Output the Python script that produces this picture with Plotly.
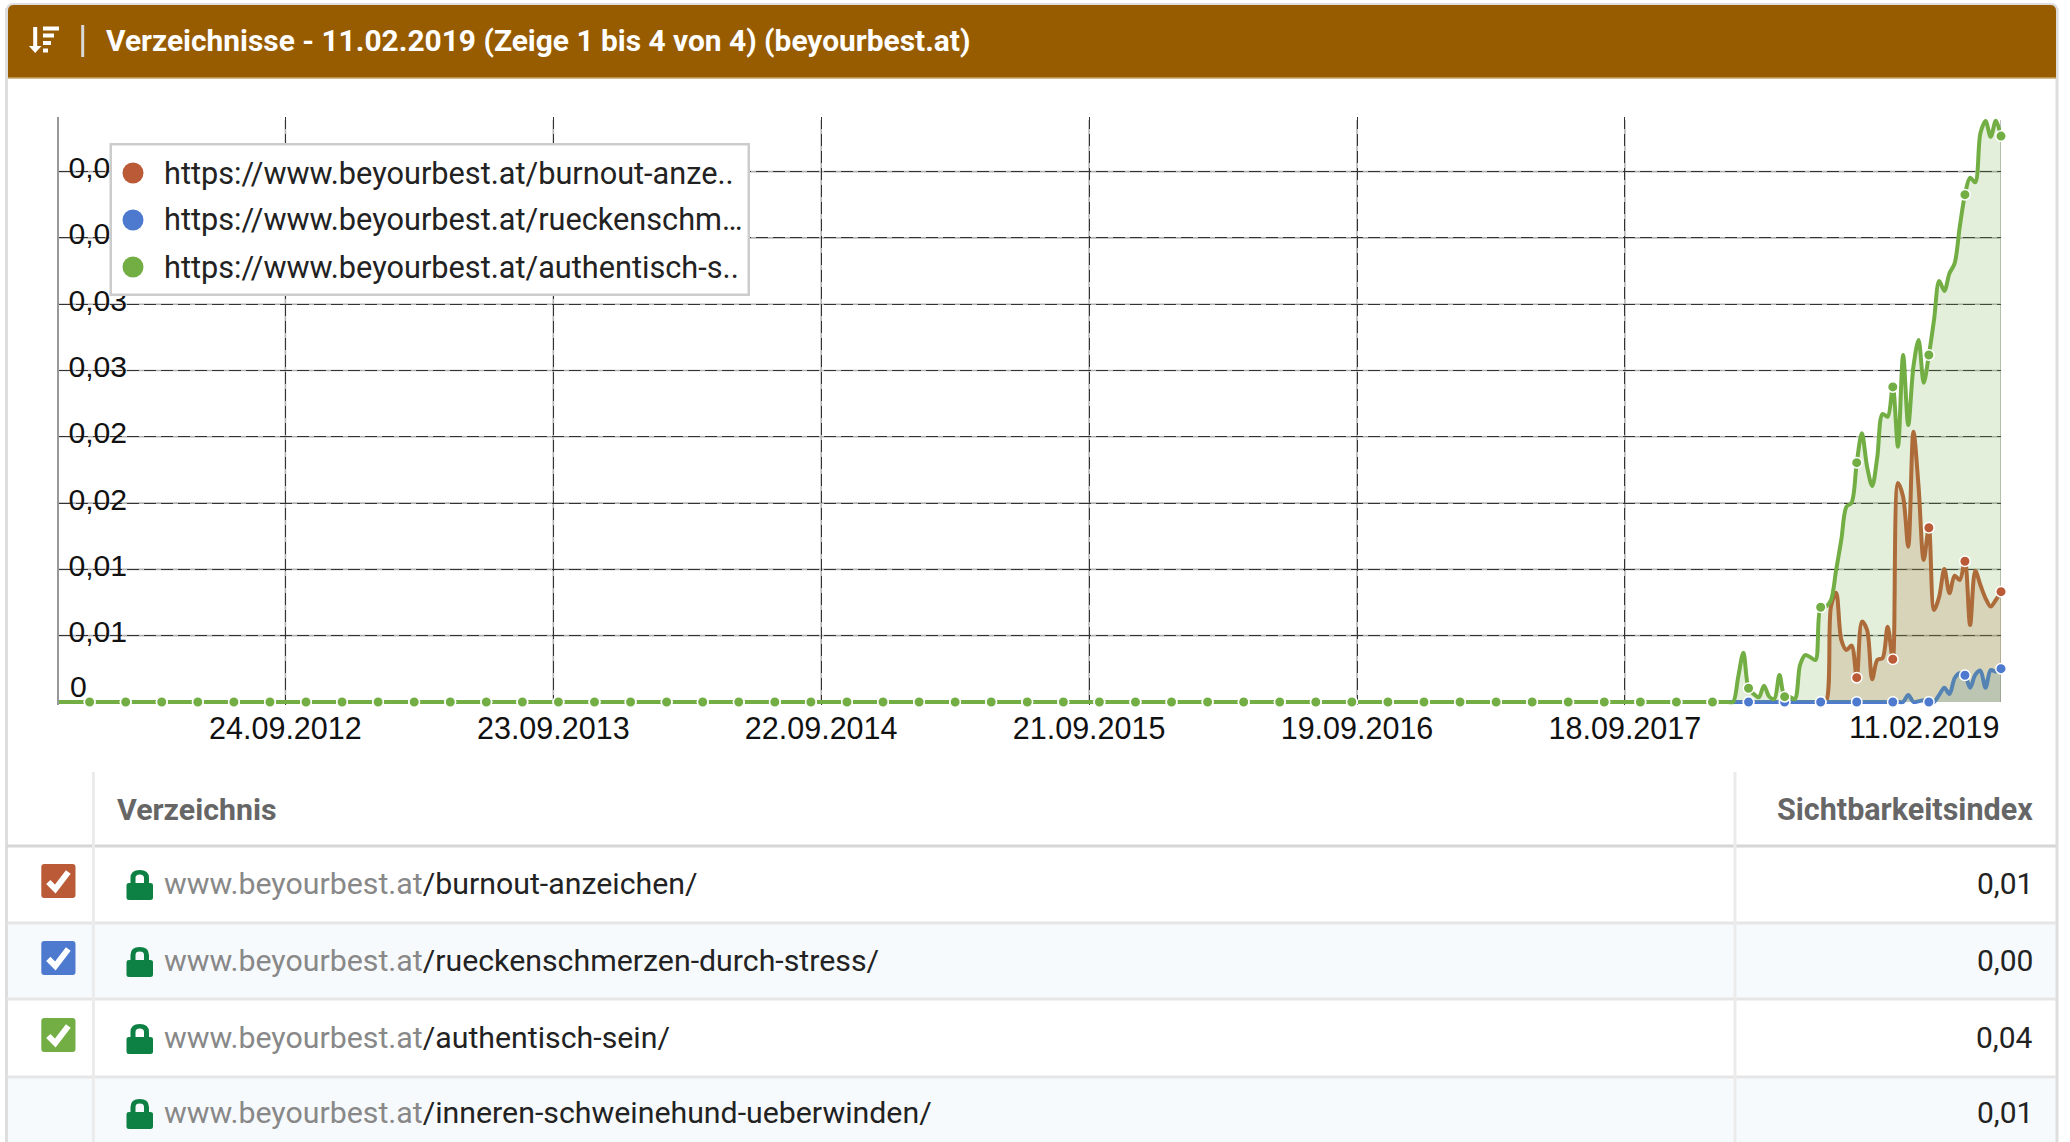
import pandas as pd
import plotly.graph_objects as go

W, H = 2070, 1142

# ---- data ----
last_date = "2019-02-11"
n_weeks = 378
green_recent = [.00191,.00372,.00103,.00060,.00035,.00123,.00040,.00023,.00204,.00040,.00038,.00023,
                .00279,.00354,.00337,.00317,.00714,.00719,.00769,.00995,.01222,.01473,.01503,.01805,
                .02026,.01775,.01629,.01850,.02172,.02152,.02376,.01925,.02617,.02089,.02529,.02730,
                .02408,.02617,.02881,.03175,.03100,.03233,.03308,.03585,.03826,.03954,.03919,.04289,
                .04382,.04263,.04384,.04268]
red_recent = [.00719,.00824,.00468,.00392,.00425,.00183,.00606,.00543,.00171,.00317,.00330,.00568,
              .00322,.01652,.01548,.01171,.02038,.01624,.01071,.01314,.00694,.00794,.01003,.00820,
              .00952,.00920,.01061,.00581,.00990,.00882,.00782,.00719,.00769,.00832]
blue_recent = [.00053,0,.00005,.00012,0,0,.00053,.00108,.00060,.00179,.00216,.00201,.00108,
               .00204,.00236,.00108,.00241,.00229,.00251]
series_names = ["https://www.beyourbest.at/burnout-anzeichen/",
                "https://www.beyourbest.at/rueckenschmerzen-durch-stress/",
                "https://www.beyourbest.at/authentisch-sein/"]
legend_labels = ["https://www.beyourbest.at/burnout-anze..",
                 "https://www.beyourbest.at/rueckenschm…",
                 "https://www.beyourbest.at/authentisch-s.."]
x_ticks = ["2012-09-24","2013-09-23","2014-09-22","2015-09-21","2016-09-19","2017-09-18","2019-02-11"]
x_labels = ["24.09.2012","23.09.2013","22.09.2014","21.09.2015","19.09.2016","18.09.2017",""]
last_label = "11.02.2019"
y_ticks = [.005,.01,.015,.02,.025,.03,.035,.04]
y_labels = ["0,01","0,01","0,02","0,02","0,03","0,03","0,03","0,04"]
title = "Verzeichnisse - 11.02.2019 (Zeige 1 bis 4 von 4) (beyourbest.at)"
table_domain = "www.beyourbest.at"
table_paths = ["/burnout-anzeichen/","/rueckenschmerzen-durch-stress/","/authentisch-sein/",
               "/inneren-schweinehund-ueberwinden/"]
table_values = ["0,01","0,00","0,04","0,01"]
RED, BLUE, GREEN = "#bb5a36", "#4d79cf", "#72ae44"
colors = [RED, BLUE, GREEN]
fills = ["rgba(187,90,54,.2)", "rgba(70,130,170,.2)", "rgba(114,174,68,.2)"]

dates = pd.date_range(end=last_date, periods=n_weeks, freq="7D")
green = [0.0]*(n_weeks-len(green_recent)) + green_recent
red = [0.0]*(n_weeks-len(red_recent)) + red_recent
blue = [0.0]*(n_weeks-len(blue_recent)) + blue_recent

fig = go.Figure()
for name, vals, c, f in zip(series_names, [red, blue, green], colors, fills):
    fig.add_trace(go.Scatter(x=dates, y=vals, name=name, mode="lines", fill="tozeroy", fillcolor=f,
                             line=dict(color=c, width=4, shape="spline", smoothing=0.9),
                             cliponaxis=False, showlegend=False, hoverinfo="skip"))
for name, vals, c in zip(series_names, [red, blue, green], colors):
    fig.add_trace(go.Scatter(x=dates[::-7], y=vals[::-7], name=name, mode="markers",
                             marker=dict(color=c, size=10.5, line=dict(color="white", width=1.5)),
                             cliponaxis=False, showlegend=False))

def X(x): return x/W
def Y(y): return 1-y/H
def P(x, y): return f"{X(x):.5f},{Y(y):.5f}"

shapes, ann = [], []
def rect(x0, y0, x1, y1, fill, layer="below"):
    shapes.append(dict(type="rect", xref="paper", yref="paper", x0=X(x0), x1=X(x1), y0=Y(y0), y1=Y(y1),
                       fillcolor=fill, line=dict(width=0), layer=layer))
def line(x0, y0, x1, y1, c, w, layer="below"):
    shapes.append(dict(type="line", xref="paper", yref="paper", x0=X(x0), x1=X(x1), y0=Y(y0), y1=Y(y1),
                       line=dict(color=c, width=w), layer=layer))
def path(d, fill=None, lc=None, w=0, layer="above"):
    shapes.append(dict(type="path", xref="paper", yref="paper", path=d, fillcolor=fill or "rgba(0,0,0,0)",
                       line=dict(color=lc or "rgba(0,0,0,0)", width=w), layer=layer))
def text(x, y, s, size, color="#222", anchor="left", weight=None, family="Roboto"):
    ann.append(dict(xref="paper", yref="paper", x=X(x), y=Y(y), text=s, showarrow=False, xanchor=anchor,
                    yanchor="middle", font=dict(family=family, size=size, color=color, weight=weight), borderpad=0))

# table backgrounds
rect(7, 923, 2056, 999, "#f7fafd")
rect(7, 1077, 2056, 1142, "#f7fafd")
# card border
line(6.5, 8, 6.5, 1142, "#dedede", 3)
line(2057, 8, 2057, 1142, "#dedede", 3)
path(f"M{P(6,78)} L{P(6,10)} Q{P(6,3)} {P(13,3)} L{P(2051,3)} Q{P(2058,3)} {P(2058,10)} L{P(2058,78)} Z",
     fill="#dedede", layer="below")
path(f"M{P(8,78)} L{P(8,11)} Q{P(8,5)} {P(14,5)} L{P(2050,5)} Q{P(2056,5)} {P(2056,11)} L{P(2056,78)} Z",
     fill="#985c00", layer="below")
line(8, 78, 2056, 78, "#c9a566", 1.5)
# sort icon
path(f"M{P(33.2,27)} L{P(37.2,27)} L{P(37.2,46)} L{P(41.5,46)} L{P(35.2,53)} L{P(28.9,46)} L{P(33.2,46)} Z", fill="white")
for x1, yy in [(59, 26.5), (54, 33.5), (51, 41), (48, 48.5)]:
    rect(43, yy, x1, yy+4, "white", "above")
line(82.7, 25, 82.7, 57, "#d8d8d8", 3)
text(105, 41, title, 29.9, "white", weight=700)

# table lines
line(7, 846, 2056, 846, "#d6d6d6", 3)
for yy in (923, 999, 1077):
    line(7, yy, 2056, yy, "#e6e6e6", 3)
for xx in (93.4, 1735):
    line(xx, 772, xx, 1142, "#ebebeb", 3)
text(116, 809, "Verzeichnis", 30.3, "#666", weight=700)
text(2034, 809, "Sichtbarkeitsindex", 30.5, "#666", "right", weight=700)

row_y = [883, 960, 1037, 1112]
for yc, p, v in zip(row_y, table_paths, table_values):
    text(163, yc, f'<span style="color:#888">{table_domain}</span>{p}', 30.3, "#222")
    text(2034, yc, v, 30, "#222", "right")
    # lock icon
    t, b = yc-13, yc+17
    path(f"M{P(126.5,t+15)} Q{P(126.5,t+13)} {P(129,t+13)} L{P(130.5,t+13)} L{P(130.5,t+8)} "
         f"Q{P(130.5,t)} {P(139.7,t)} Q{P(149,t)} {P(149,t+8)} L{P(149,t+13)} L{P(150.5,t+13)} "
         f"Q{P(153,t+13)} {P(153,t+15)} L{P(153,b-2)} Q{P(153,b)} {P(150.5,b)} L{P(129,b)} Q{P(126.5,b)} {P(126.5,b-2)} Z "
         f"M{P(135.5,t+13)} L{P(144,t+13)} L{P(144,t+8)} Q{P(144,t+4.5)} {P(139.7,t+4.5)} Q{P(135.5,t+4.5)} {P(135.5,t+8)} Z",
         fill="#0d8043")

# checkboxes
for (top, c) in zip([864, 941, 1018], colors):
    x0, x1, y0, y1 = 41.3, 75.5, top, top+34
    path(f"M{P(x0+3,y0)} L{P(x1-3,y0)} Q{P(x1,y0)} {P(x1,y0+3)} L{P(x1,y1-3)} Q{P(x1,y1)} {P(x1-3,y1)} "
         f"L{P(x0+3,y1)} Q{P(x0,y1)} {P(x0,y1-3)} L{P(x0,y0+3)} Q{P(x0,y0)} {P(x0+3,y0)} Z", fill=c)
    path(f"M{P(x0+7,y0+18)} L{P(x0+14,y0+25)} L{P(x0+27,y0+8)}", lc="white", w=6)

# grey solid lines under the dashed grid
for v in y_ticks:
    shapes.append(dict(type="line", xref="paper", yref="y", x0=X(58.7), x1=X(2001), y0=v, y1=v,
                       line=dict(color="#b4b4b4", width=1.6), layer="below"))
for d in x_ticks:
    shapes.append(dict(type="line", xref="x", yref="paper", x0=d, x1=d, y0=Y(702), y1=Y(120),
                       line=dict(color="#b4b4b4", width=1.6), layer="below"))

# legend
rect(109.5, 143, 750, 296, "#cccccc", "above")
rect(112, 145.5, 747.5, 293.5, "white", "above")
for yc, c, lab in zip([173, 220, 267], colors, legend_labels):
    shapes.append(dict(type="circle", xref="paper", yref="paper", x0=X(122.5), x1=X(143.5), y0=Y(yc+10.5), y1=Y(yc-10.5),
                       fillcolor=c, line=dict(width=0), layer="above"))
    text(163, yc, lab, 30.7, "#222")

# labels that the axes cannot place
ann.append(dict(xref="x", yref="paper", x=last_date, y=Y(727), text=last_label, showarrow=False, xanchor="right",
                yanchor="middle", font=dict(family="Liberation Sans", size=30.5, color="#111")))
text(69, 686, "0", 30.2, "#111", family="Liberation Sans")

fig.update_layout(
    width=W, height=H, margin=dict(l=0, r=0, t=0, b=0), paper_bgcolor="white", plot_bgcolor="rgba(0,0,0,0)",
    showlegend=False, shapes=shapes, annotations=ann, hovermode=False,
    xaxis=dict(domain=[X(58.7), X(2001)], type="date", range=["2011-11-21", last_date], tickmode="array",
               tickvals=x_ticks, ticktext=x_labels, showgrid=True, gridcolor="#333", griddash="12px,5px", gridwidth=1,
               ticks="", ticklabelstandoff=2, zeroline=False, showline=False,
               tickangle=0, tickfont=dict(family="Liberation Sans", size=30.5, color="#111")),
    yaxis=dict(domain=[Y(705), Y(117)], range=[-.00023, .04412], tickmode="array", tickvals=y_ticks, ticktext=y_labels,
               showgrid=True, gridcolor="#333", griddash="12px,5px", gridwidth=1, zeroline=False,
               showline=True, linecolor="#999", linewidth=1.5, ticks="inside", ticklen=13, tickcolor="rgba(0,0,0,0)",
               ticklabelposition="inside", ticklabelshift=-4,
               tickfont=dict(family="Liberation Sans", size=30.2, color="#111")),
)
fig.write_html("out.html", config=dict(displayModeBar=False), post_script="document.body.style.margin='0';")
